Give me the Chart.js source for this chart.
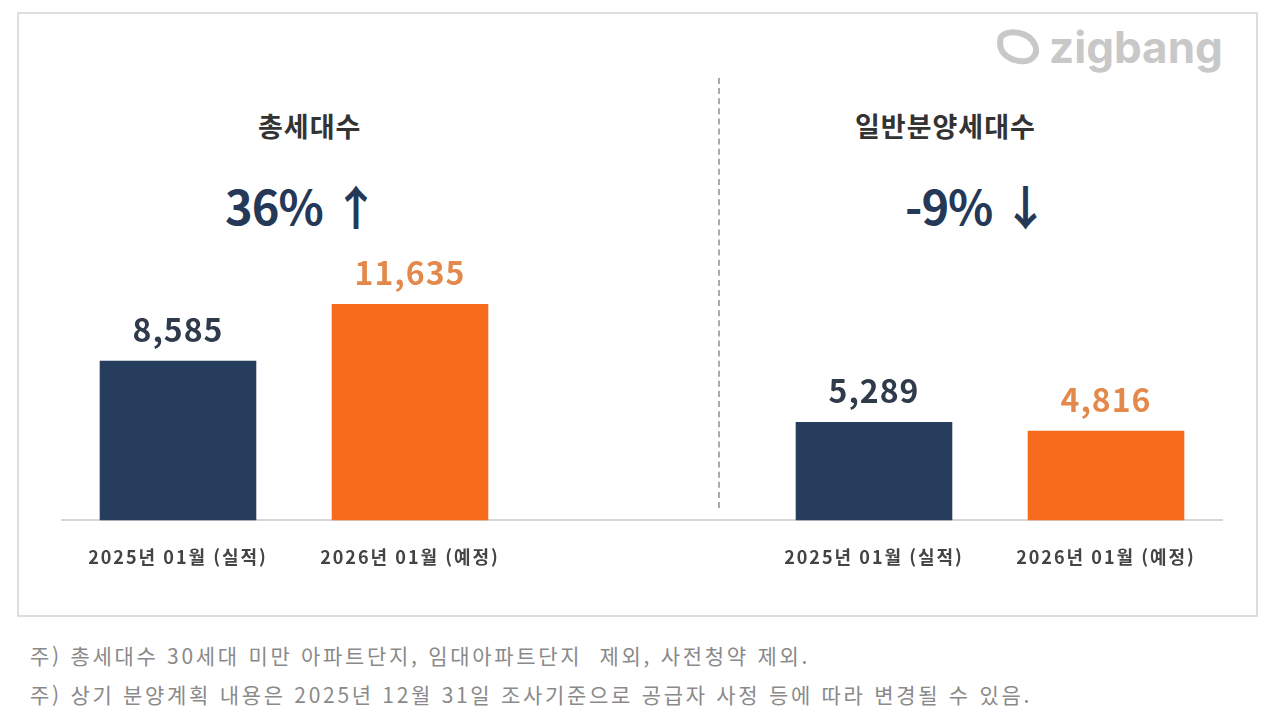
<!DOCTYPE html>
<html lang="ko">
<head>
<meta charset="utf-8">
<script src="https://cdn.jsdelivr.net/npm/chart.js@4.4.1/dist/chart.umd.min.js"></script>
<style>
    html, body { margin: 0; padding: 0; background: #fff; }
    body { width: 1280px; height: 723px; position: relative; overflow: hidden; font-family: "Noto Sans CJK KR", "Noto Sans", sans-serif; }
    .frame { position: absolute; left: 17px; top: 12px; width: 1237px; height: 601px; border: 2px solid #dedede; box-sizing: content-box; }
    .chart-wrap { position: absolute; left: 0; top: 0; width: 1280px; height: 620px; }
    .panel-title { position: absolute; font-size: 27px; font-weight: 700; color: #333; white-space: nowrap; letter-spacing: 1px; }
    .panel-rate { position: absolute; font-size: 47px; font-weight: 700; color: #253858; white-space: nowrap; letter-spacing: -1px; }
    .divider { position: absolute; left: 718px; top: 78px; width: 0; height: 430px; border-left: 2px dashed #aaa; }
    .logo { position: absolute; left: 993px; top: 20px; display: flex; align-items: center; color: #c8c8c8; font-family: "Inter", "Noto Sans", sans-serif; font-weight: 700; font-size: 44px; }
    .logo svg { margin-right: 8px; }
    .notes { position: absolute; left: 30px; top: 636px; font-size: 21px; color: #8a8a8a; line-height: 39px; letter-spacing: 2.7px; white-space: nowrap; }
</style>
</head>
<body>
<div class="frame"></div>
<div class="logo">
    <svg width="48" height="40" viewBox="0 0 48 40">
        <path d="M8 10 C14 2, 36 4, 42 18 C46 28, 38 36, 26 34 C14 32, 4 24, 8 10 Z" fill="none" stroke="#c8c8c8" stroke-width="6"/>
    </svg>
    <span>zigbang</span>
</div>
<div class="panel-title" id="title-0" style="left:258px; top:106px;"></div>
<div class="panel-rate" id="rate-0" style="left:225px; top:170px;"></div>
<div class="panel-title" id="title-1" style="left:855px; top:106px;"></div>
<div class="panel-rate" id="rate-1" style="left:905px; top:170px;"></div>
<div class="divider"></div>
<div class="chart-wrap"><canvas id="supplyChart"></canvas></div>
<div class="notes">
    <div>주) 총세대수 30세대 미만 아파트단지, 임대아파트단지&nbsp; 제외, 사전청약 제외.</div>
    <div>주) 상기 분양계획 내용은 2025년 12월 31일 조사기준으로 공급자 사정 등에 따라 변경될 수 있음.</div>
</div>
<script>
const panelTitles = ['총세대수', '일반분양세대수'];
const panelRates = ['36% ↑', '-9% ↓'];
const periodLabels = ['2025년 01월 (실적)', '2026년 01월 (예정)'];
const totalUnits = [8585, 11635];
const generalSaleUnits = [5289, 4816];
const barColors = ['#263d5e', '#f76b1c'];
const valueColors = ['#2f3a4a', '#e3894b'];

panelTitles.forEach((t, i) => { document.getElementById('title-' + i).textContent = t; });
panelRates.forEach((t, i) => { document.getElementById('rate-' + i).textContent = t; });

// two panels on one axis, with an empty slot between them
const categories = [...periodLabels, '', ...periodLabels];
const values = [...totalUnits, null, ...generalSaleUnits];
const colors = [...barColors, 'rgba(0,0,0,0)', ...barColors];
const labelColors = [...valueColors, 'rgba(0,0,0,0)', ...valueColors];

const tickSpacing = {
    id: 'tickSpacing',
    beforeDraw(chart) {
        chart.ctx.letterSpacing = '2px';
    }
};

const valueLabels = {
    id: 'valueLabels',
    afterDatasetsDraw(chart) {
        const ctx = chart.ctx;
        const meta = chart.getDatasetMeta(0);
        ctx.save();
        ctx.letterSpacing = '1px';
        ctx.font = '700 32px "Noto Sans CJK KR", sans-serif';
        ctx.textAlign = 'center';
        ctx.textBaseline = 'middle';
        meta.data.forEach((bar, i) => {
            const v = values[i];
            if (v === null) return;
            ctx.fillStyle = labelColors[i];
            ctx.fillText(v.toLocaleString('en-US'), bar.x, bar.y - 31);
        });
        ctx.restore();
    }
};

const ctx = document.getElementById('supplyChart').getContext('2d');
new Chart(ctx, {
    type: 'bar',
    data: {
        labels: categories,
        datasets: [{
            data: values,
            backgroundColor: colors,
            borderWidth: 0,
            categoryPercentage: 1,
            barPercentage: 0.675
        }]
    },
    options: {
        responsive: true,
        maintainAspectRatio: false,
        animation: false,
        layout: { padding: { left: 62, right: 58, top: 74, bottom: 34 } },
        plugins: {
            legend: { display: false },
            tooltip: { enabled: false }
        },
        scales: {
            y: {
                display: false,
                min: 0,
                max: 24000
            },
            x: {
                grid: { display: false },
                border: { display: true, color: '#d6d6d6', width: 2 },
                ticks: {
                    color: '#444',
                    padding: 18,
                    maxRotation: 0,
                    font: { family: '"Noto Sans CJK KR", sans-serif', size: 18, weight: '700' }
                }
            }
        }
    },
    plugins: [tickSpacing, valueLabels]
});
</script>
</body>
</html>
